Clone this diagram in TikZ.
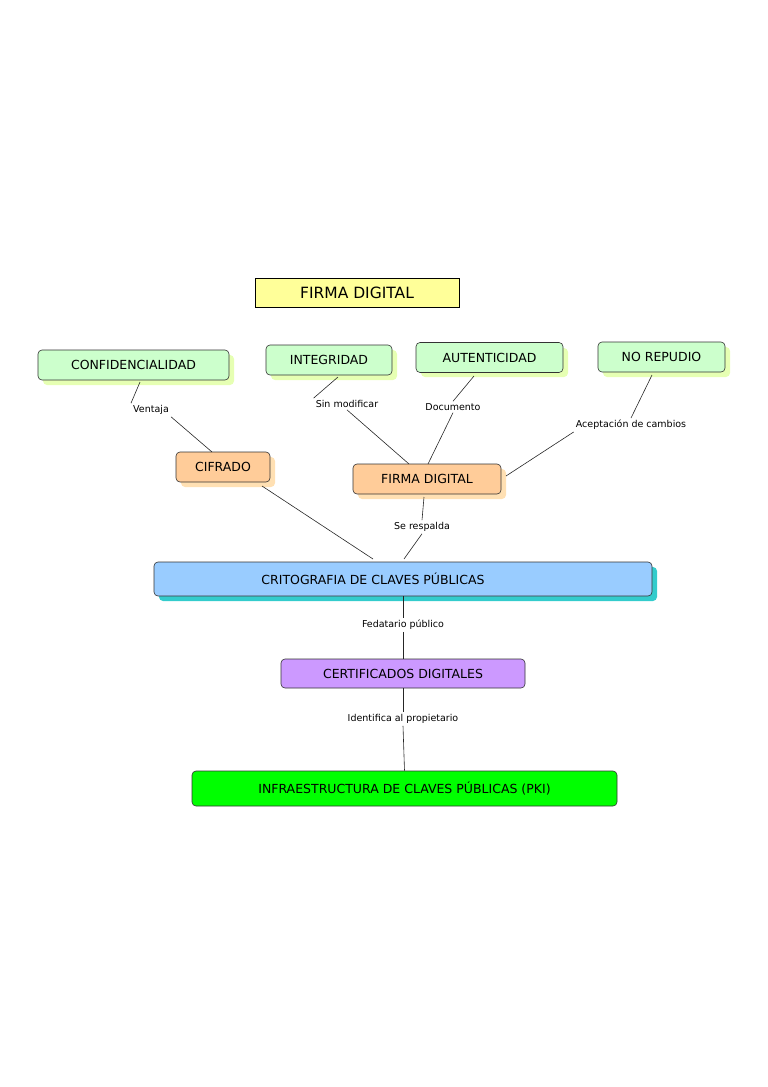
\documentclass[tikz,border=0pt]{standalone}
\usepackage{fontspec}
\setmainfont{DejaVu Sans}
\definecolor{lg}{HTML}{CCFFCC}
\definecolor{lgs}{HTML}{E6FFB3}
\definecolor{org}{HTML}{FFCC99}
\definecolor{orgs}{HTML}{FFE0B3}
\definecolor{blu}{HTML}{99CCFF}
\definecolor{blus}{HTML}{33CCCC}
\definecolor{pur}{HTML}{CC99FF}
\definecolor{grn}{HTML}{00FF00}
\definecolor{yel}{HTML}{FFFF99}
\begin{document}
\begin{tikzpicture}[x=1pt,y=-1pt,
  box/.style={draw=black!80,rounded corners=4pt,minimum height=30pt,font=\fontsize{12.5}{14}\selectfont,inner sep=0pt,line width=0.6pt},
  lab/.style={font=\fontsize{9.5}{11}\selectfont,inner sep=2pt,fill=white},
  con/.style={draw=black!85,line width=0.6pt}]
\useasboundingbox (0,0) rectangle (768,1087);
% shadows
\fill[lgs,rounded corners=4pt] (43,355) rectangle (234,385);
\fill[lgs,rounded corners=4pt] (271,350) rectangle (397,380);
\fill[lgs,rounded corners=4pt] (421,348) rectangle (568,377);
\fill[lgs,rounded corners=4pt] (603,347) rectangle (730,377);
\fill[orgs,rounded corners=4pt] (181,457) rectangle (275,487);
\fill[orgs,rounded corners=4pt] (358,469) rectangle (506,499);
\fill[blus,rounded corners=4pt] (159,567) rectangle (657,601);
% nodes
\node[draw=black,fill=yel,minimum width=204pt,minimum height=29pt,inner sep=0pt,font=\fontsize{15.5}{18}\selectfont] (title) at (357,292.5) {FIRMA DIGITAL};
\node[box,fill=lg,minimum width=191pt] (conf) at (133.5,365) {CONFIDENCIALIDAD};
\node[box,fill=lg,minimum width=126pt] (integ) at (329,360) {INTEGRIDAD};
\node[box,fill=lg,minimum width=147pt] (aut) at (489.5,357.5) {AUTENTICIDAD};
\node[box,fill=lg,minimum width=127pt] (nor) at (661.5,357) {NO REPUDIO};
\node[box,fill=org,minimum width=94pt] (cif) at (223,467) {CIFRADO};
\node[box,fill=org,minimum width=148pt] (firma) at (427,479) {FIRMA DIGITAL};
\node[box,fill=blu,minimum width=498pt,minimum height=34pt] (crit) at (403,579) {\hspace*{-60pt}CRITOGRAFIA DE CLAVES PÚBLICAS};
\node[box,fill=pur,minimum width=244pt,minimum height=29pt] (cert) at (403,673.5) {CERTIFICADOS DIGITALES};
\node[box,fill=grn,minimum width=425pt,minimum height=35pt] (pki) at (404.5,788.5) {INFRAESTRUCTURA DE CLAVES PÚBLICAS (PKI)};
% labels
\node[lab] (ven) at (151,410) {Ventaja};
\node[lab] (sin) at (347,404) {Sin modificar};
\node[lab] (doc) at (453,407) {Documento};
\node[lab] (ace) at (631,425) {Aceptación de cambios};
\node[lab] (res) at (422,527) {Se respalda};
\node[lab] (fed) at (403,625) {Fedatario público};
\node[lab] (ide) at (403,719) {Identifica al propietario};
% connectors
\coordinate (c1) at (140,382); \coordinate (c2) at (338,377); \coordinate (c3) at (474,376);
\coordinate (c4) at (652,375); \coordinate (c5) at (212,452); \coordinate (c6) at (409,464);
\coordinate (c7) at (428,464); \coordinate (c8) at (506,476); \coordinate (c9) at (262,486);
\coordinate (c10) at (373,559); \coordinate (c11) at (424,497); \coordinate (c12) at (404,559);
\draw[con] (c1) -- (ven.north west) ++(0,0);
\draw[con] (ven.south east) -- (c5);
\draw[con] (c2) -- (sin.north west);
\draw[con] (sin.south) -- (c6);
\draw[con] (c3) -- (doc.north);
\draw[con] (doc.south) -- (c7);
\draw[con] (c4) -- (ace.north);
\draw[con] (ace.south west) -- (c8);
\draw[con] (c9) -- (c10);
\draw[con] (c11) -- (res.north);
\draw[con] (res.south) -- (c12);
\draw[con] (crit.south) -- (fed.north);
\draw[con] (fed.south) -- (cert.north);
\draw[con] (cert.south) -- (ide.north);
\draw[con] (ide.south) -- (pki.north);
\end{tikzpicture}
\end{document}
